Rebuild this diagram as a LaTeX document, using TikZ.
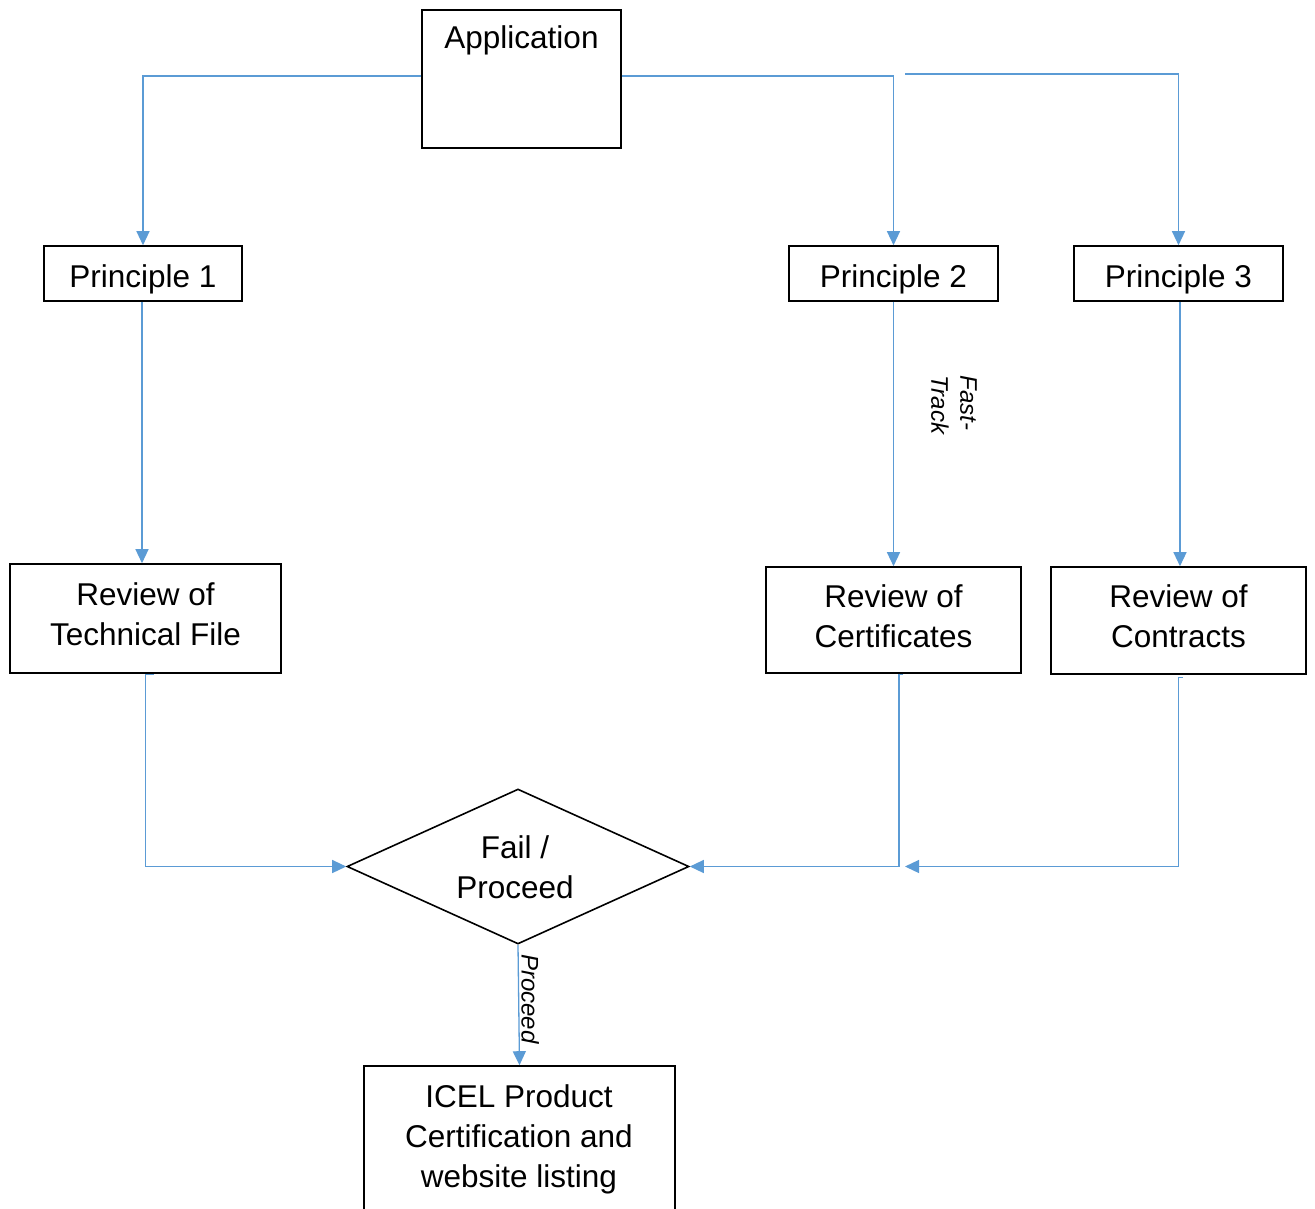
\documentclass[tikz,border=0pt]{standalone}
\usepackage{fontspec}
\setmainfont{Liberation Sans}
\usetikzlibrary{arrows.meta,shapes.geometric}
\definecolor{conblue}{HTML}{5B9BD5}
\begin{document}
\begin{tikzpicture}[x=1pt,y=-1pt,
  box/.style={draw=black,line width=1.6pt,inner sep=0pt,align=center,font=\fontsize{31.5}{40}\selectfont},
  pbox/.style={box,text height=28pt,text depth=0pt},
  txt/.style={inner sep=0pt,align=center,font=\fontsize{31.5}{40}\selectfont},
  conn/.style={draw=conblue,line width=1.3pt,-{Triangle[length=14pt,width=13pt]}},
  lbl/.style={inner sep=2pt,align=left,font=\fontsize{24}{29}\selectfont\itshape}]
\useasboundingbox (0,0) rectangle (1315,1208);
% boxes
\node[box,minimum width=199pt,minimum height=138pt] (app) at (521.5,79) {};
\node[txt] (appt) at (521.5,40) {Application};
\node[pbox,minimum width=198pt,minimum height=55pt] (p1) at (143,273.5) {Principle 1};
\node[pbox,minimum width=209pt,minimum height=55pt] (p2) at (893.5,273.5) {Principle 2};
\node[pbox,minimum width=209pt,minimum height=55pt] (p3) at (1178.5,273.5) {Principle 3};
\node[box,minimum width=271pt,minimum height=109pt] (rtf) at (145.5,618.5) {};
\node[txt] (rtft) at (145.5,614.5) {Review of\\Technical File};
\node[box,minimum width=255pt,minimum height=106pt] (rc) at (893.5,620) {};
\node[txt] (rct) at (893.5,616) {Review of\\Certificates};
\node[box,minimum width=255pt,minimum height=107pt] (rk) at (1178.5,620.5) {};
\node[txt] (rkt) at (1178.5,616.5) {Review of\\Contracts};
\node[box,shape=diamond,aspect=2.206,minimum width=342pt,minimum height=155pt] (dia) at (518,866.5) {};
\node[txt] (diat) at (515,867) {Fail /\\Proceed};
\node[box,minimum width=311pt,minimum height=144pt] (icel) at (519.5,1138) {};
\node[txt] (icelt) at (519,1139) {ICEL Product\\Certification and\\website listing};
% fast-track label
\node[lbl,rotate=-90] (ft) at (954,405) {Fast-\\Track};
% connectors
\coordinate (j3) at (905,74);
\coordinate (j4) at (905,866.5);
\draw[conn] ([yshift=3pt]app.west) -| (p1.north);
\draw[conn] ([yshift=3pt]app.east) -| (p2.north);
\draw[conn] (j3) -| (p3.north);
\draw[conn] ([xshift=-1pt]p1.south) -- ([xshift=-1pt]p1.south |- rtf.north);
\draw[conn] (p2.south) -- (p2.south |- rc.north);
\draw[conn] ([xshift=1.5pt]p3.south) -- ([xshift=1.5pt]p3.south |- rk.north);
\draw[conn] ([xshift=8.5pt,yshift=-1pt]rtf.south) -- ([yshift=-1pt]rtf.south) |- (dia.west);
\draw[conn] ([xshift=9.5pt,yshift=-1pt]rc.south) -- ([xshift=5.5pt,yshift=-1pt]rc.south) |- (dia.east);
\draw[conn] ([xshift=4pt,yshift=-3pt]rk.south) -- ([yshift=-3pt]rk.south) |- (j4);
\draw[conn] (dia.south) -- node[lbl,rotate=-90,anchor=south,pos=0.45] (pl) {Proceed} (icel.north);
\end{tikzpicture}
\end{document}
